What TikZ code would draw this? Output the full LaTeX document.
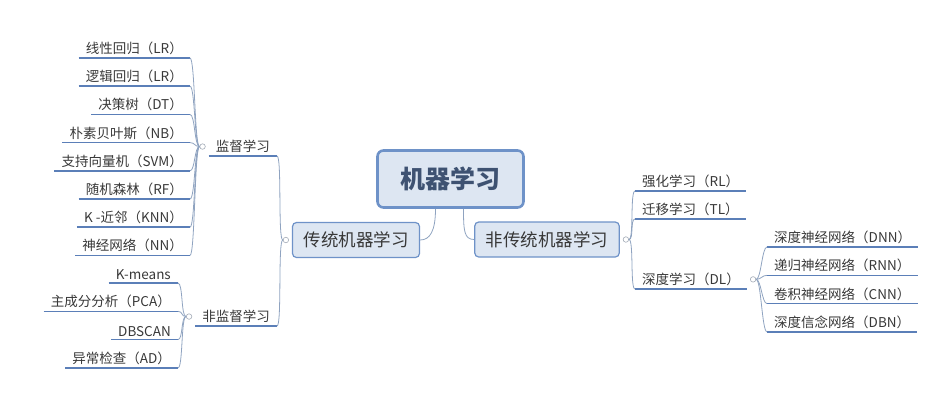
\documentclass[tikz,border=0pt]{standalone}
\usepackage{fontspec}
\setmainfont{Noto Sans CJK SC}
\usepackage{tikz}
\usetikzlibrary{calc,positioning}
\definecolor{mmline}{HTML}{5B7FB8}
\definecolor{mmlink}{HTML}{8FA3C0}
\definecolor{mmfill}{HTML}{DDE6F2}
\definecolor{mmedge}{HTML}{6E92C8}
\definecolor{mmtext}{HTML}{383838}
\definecolor{mmroot}{HTML}{3E5272}
\definecolor{mmknob}{HTML}{A2AAB6}
\tikzset{
	mind map xm/.style={x=1pt, y=-1pt, text=mmtext},
	root/.style={draw=mmedge, line width=2.6pt, fill=mmfill, rounded corners=6pt,
		minimum width=146pt, minimum height=57pt, text=mmroot,
		font=\fontsize{25}{28}\selectfont\bfseries},
	branch/.style={draw=mmedge, line width=1.2pt, fill=mmfill, rounded corners=4pt,
		minimum height=35pt, inner xsep=11pt, font=\fontsize{17.5}{20}\selectfont},
	uline/.style={draw=mmline, line width=1.6pt},
	leaf/.style={inner xsep=7pt, inner ysep=3pt, font=\fontsize{13.5}{16}\selectfont,
		append after command={(\tikzlastnode.south west) edge[uline] (\tikzlastnode.south east)}},
	knob/.style={circle, draw=mmknob, fill=white, line width=.6pt, inner sep=0pt, minimum size=5.5pt},
	link/.style={draw=mmlink, line width=.8pt},
	lk/.style={to path={.. controls +(#1,0) and +({-1*(#1)},0) .. (\tikztotarget)}}
}

\begin{document}
\begin{tikzpicture}[mind map xm]
   \useasboundingbox (0,0) rectangle (931,400);
   \node[root] (ml) at (450.5,179) {机器学习};
   \node[branch] (trad) at (356,240) {传统机器学习};
   \node[branch] (ntrad) at (547,239.5) {非传统机器学习};
   \node[knob, left=3pt of trad] (tradk) {};
   \node[knob, right=3pt of ntrad] (ntradk) {};
   \draw[link] ($(ml.south)+(-15,0)$) .. controls +(0,22) and +(10,0) .. (trad.east);
   \draw[link] ($(ml.south)+(13,0)$) .. controls +(0,22) and +(-10,0) .. (ntrad.west);

   % traditional: supervised / unsupervised
   \node[leaf, anchor=south east] (sup) at (277,156) {监督学习};
   \node[leaf, anchor=south east] (usup) at (277,326) {非监督学习};
   \node[knob, left=3pt of sup] (supk) {};
   \node[knob, left=3pt of usup] (usupk) {};
   \draw[link] (tradk.west) to[lk=-5] (sup.south east);
   \draw[link] (tradk.west) to[lk=-5] (usup.south east);
   \foreach \t [count=\i] in {线性回归（LR）, 逻辑回归（LR）, 决策树（DT）, 朴素贝叶斯（NB）,
         支持向量机（SVM）, 随机森林（RF）, K -近邻（KNN）, 神经网络（NN）} {
      \node[leaf, anchor=south east] (sup\i) at ({190},{29.8+28.2*\i}) {\t};
      \draw[link] (supk.west) to[lk=-5] (sup\i.south east);
   }
   \foreach \t [count=\i] in {K-means, 主成分分析（PCA）, DBSCAN, 异常检查（AD）} {
      \node[leaf, anchor=south east] (usup\i) at ({178},{254.7+28.3*\i}) {\t};
      \draw[link] (usupk.west) to[lk=-5] (usup\i.south east);
   }

   % non-traditional
   \node[leaf, anchor=south west] (rl) at (635,191) {强化学习（RL）};
   \node[leaf, anchor=south west] (tl) at (635,219) {迁移学习（TL）};
   \node[leaf, anchor=south west] (dl) at (635,289) {深度学习（DL）};
   \node[knob, right=3pt of dl] (dlk) {};
   \foreach \n in {rl,tl,dl}
      \draw[link] (ntradk.east) to[lk=5] (\n.south west);
   \foreach \t [count=\i] in {深度神经网络（DNN）, 递归神经网络（RNN）, 卷积神经网络（CNN）, 深度信念网络（DBN）} {
      \node[leaf, anchor=south west] (dl\i) at ({767},{218.7+28.3*\i}) {\t};
      \draw[link] (dlk.east) to[lk=5] (dl\i.south west);
   }
\end{tikzpicture}
\end{document}
